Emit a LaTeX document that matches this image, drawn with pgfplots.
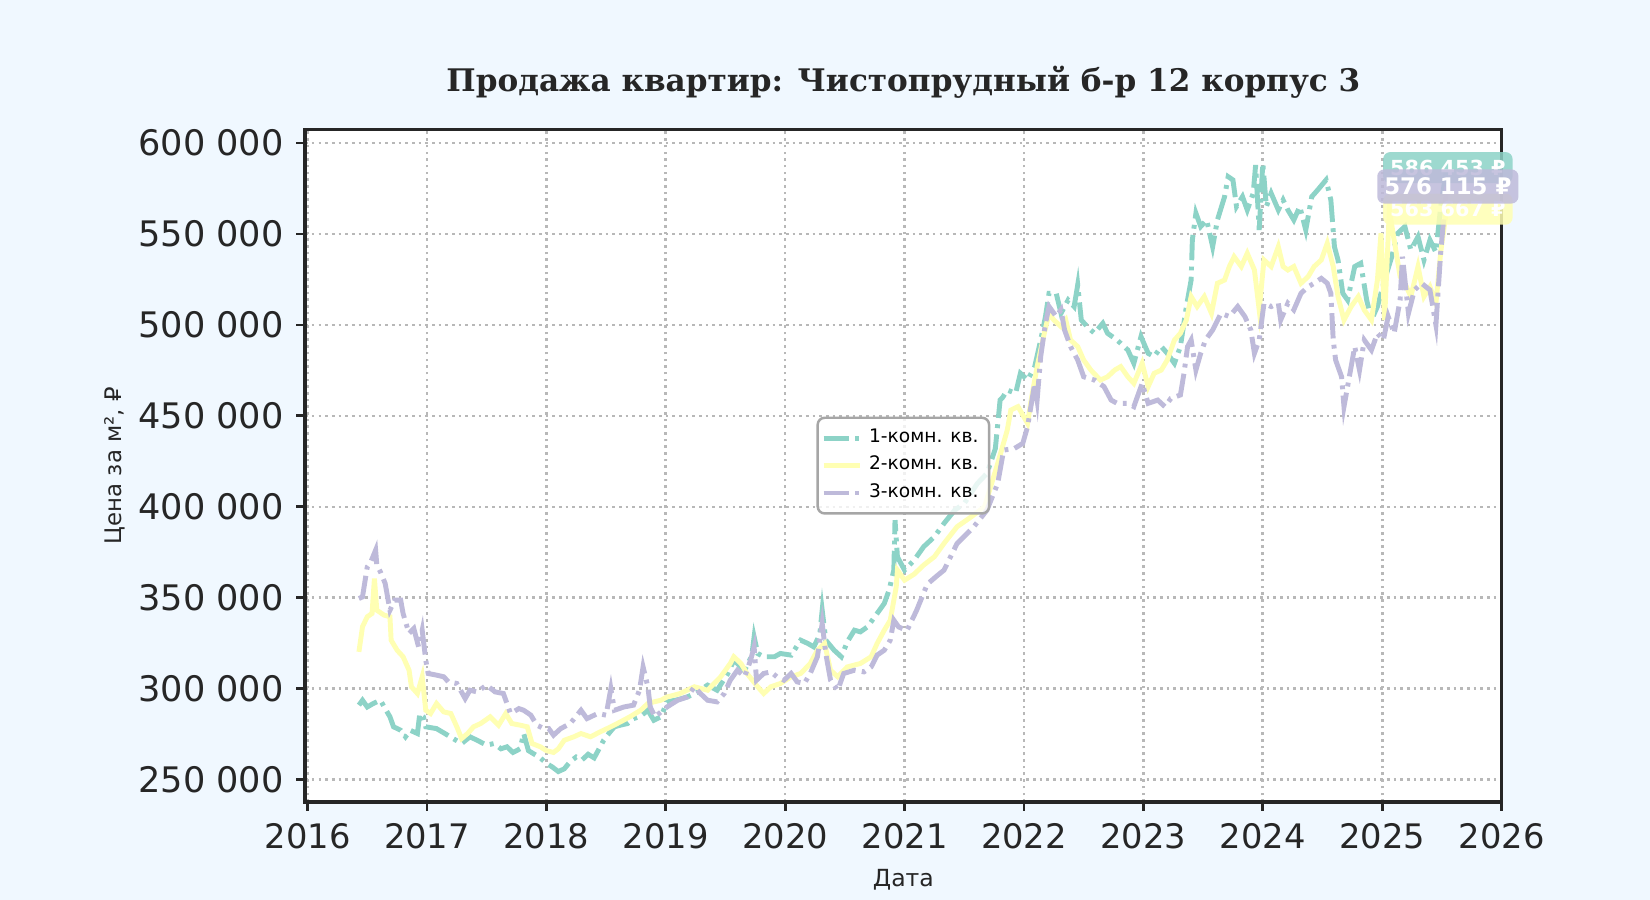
\documentclass[border=0pt]{standalone}
\usepackage{fontspec}
\setmainfont{DejaVu Sans}
\newfontfamily\titlefont{DejaVu Serif}
\usepackage{pgfplots}
\pgfplotsset{compat=1.18}

\definecolor{c1}{HTML}{8DD3C7}
\definecolor{c2}{HTML}{FFFFB3}
\definecolor{c3}{HTML}{BEBADA}
\definecolor{bg}{HTML}{F0F8FF}
\definecolor{frame}{HTML}{262626}

\begin{document}
\begin{tikzpicture}
\fill[bg] (-3.052cm,-0.979cm) rectangle (13.449cm,8.019cm);
\path[use as bounding box] (-3.052cm,-0.979cm) rectangle (13.449cm,8.019cm);
\begin{axis}[
    at={(0,0)}, anchor=south west,
    width=11.965cm, height=6.725cm, scale only axis,
    xmin=2015.98, xmax=2026.0,
    ymin=237850, ymax=607500,
    scaled y ticks=false, scaled x ticks=false,
    clip mode=individual,
    axis background/.style={fill=white},
    axis line style={line width=1pt, color=frame},
    xtick={2016,2017,2018,2019,2020,2021,2022,2023,2024,2025,2026},
    xticklabels={2016,2017,2018,2019,2020,2021,2022,2023,2024,2025,2026},
    ytick={250000,300000,350000,400000,450000,500000,550000,600000},
    yticklabels={{250 000},{300 000},{350 000},{400 000},{450 000},{500 000},{550 000},{600 000}},
    xtick pos=left, ytick pos=left,
    tick align=outside, major tick length=2.6pt,
    tick style={line width=0.8pt, color=frame},
    xticklabel style={font=\fontsize{9.6}{11}\selectfont, text=frame},
    yticklabel style={font=\fontsize{10}{12}\selectfont, text=frame},
    grid=major,
    major grid style={line width=0.75pt, color=black!28, dash pattern=on 0.75pt off 1.15pt},
    legend style={at={(0.5,0.5)}, anchor=center, draw=black!35, line width=0.7pt,
        rounded corners=2pt, fill=white, fill opacity=0.8, draw opacity=1, text opacity=1,
        font=\fontsize{5.3}{6.3}\selectfont, row sep=-1.6pt, inner ysep=1.1pt, inner xsep=1pt,
        cells={anchor=west}},
    legend image code/.code={\draw[#1] (0cm,0cm) -- (0.36cm,0cm);},
]
\addplot[color=c1, line width=1.4pt, dash pattern=on 7.2pt off 1.8pt on 1.1pt off 1.8pt] coordinates {
(2016.43,291000) (2016.46,293700) (2016.50,290000) (2016.55,291900) (2016.61,293700)
(2016.65,289100) (2016.69,284600) (2016.72,279100) (2016.78,277200) (2016.82,273600)
(2016.86,277200) (2016.92,275400) (2016.94,286400) (2016.97,284600) (2016.99,279100)
(2017.08,278100) (2017.15,275400) (2017.22,272600) (2017.29,269900) (2017.36,273600)
(2017.42,271700) (2017.50,269000) (2017.56,269900) (2017.62,267000) (2017.67,268100)
(2017.72,265000) (2017.78,267000) (2017.81,275400) (2017.85,266000) (2017.90,264000)
(2017.95,262000) (2018.00,259000) (2018.05,257000) (2018.10,254500) (2018.15,256000)
(2018.20,260000) (2018.25,262500) (2018.30,261000) (2018.35,264000) (2018.40,262000)
(2018.45,268000) (2018.48,271700) (2018.53,276000) (2018.57,279100) (2018.62,280000)
(2018.68,280900) (2018.73,283600) (2018.79,285000) (2018.85,288200) (2018.90,282700)
(2018.96,284600) (2019.01,292800) (2019.10,294000) (2019.18,295500) (2019.26,298000)
(2019.35,302000) (2019.43,299200) (2019.52,308400) (2019.57,315700) (2019.66,310200)
(2019.72,318000) (2019.74,328500) (2019.77,319400) (2019.82,317600) (2019.91,317600)
(2019.96,319400) (2020.05,318500) (2020.13,326700) (2020.19,324900) (2020.24,323000)
(2020.29,330000) (2020.31,343200) (2020.34,326700) (2020.41,321200) (2020.47,317600)
(2020.52,325800) (2020.58,332200) (2020.63,331300) (2020.69,334100) (2020.77,341400)
(2020.83,346900) (2020.87,354200) (2020.91,365200) (2020.92,392700) (2020.94,372500)
(2021.00,365200) (2021.08,370700) (2021.16,378100) (2021.25,383600) (2021.33,390900)
(2021.42,398200) (2021.50,401900) (2021.61,412900) (2021.69,418400) (2021.76,432000)
(2021.80,458700) (2021.82,460000) (2021.86,464200) (2021.93,462400) (2021.97,473400)
(2022.03,469700) (2022.09,477100) (2022.14,491700) (2022.18,504600) (2022.21,517400)
(2022.27,517400) (2022.31,506400) (2022.37,513700) (2022.42,510100) (2022.45,522000)
(2022.48,502700) (2022.53,499100) (2022.59,495400) (2022.66,500900) (2022.70,495400)
(2022.78,491700) (2022.87,486200) (2022.92,478900) (2022.98,493600) (2023.04,484400)
(2023.09,482600) (2023.15,488100) (2023.20,484400) (2023.26,478900) (2023.31,488100)
(2023.36,510100) (2023.40,524700) (2023.41,546700) (2023.44,561400) (2023.48,554100)
(2023.53,557700) (2023.58,543000) (2023.62,557700) (2023.68,570500) (2023.71,581500)
(2023.75,579700) (2023.78,565100) (2023.83,570500) (2023.87,563200) (2023.92,572400)
(2023.94,587900) (2023.97,552200) (2024.00,588900) (2024.03,565100) (2024.07,572400)
(2024.13,563200) (2024.17,568700) (2024.21,563200) (2024.26,557700) (2024.31,565100)
(2024.36,552200) (2024.41,570500) (2024.46,574200) (2024.53,579700) (2024.57,568700)
(2024.60,543000) (2024.63,535700) (2024.67,517400) (2024.71,513700) (2024.77,532100)
(2024.82,533900) (2024.87,513700) (2024.91,502700) (2024.96,510100) (2025.02,524700)
(2025.08,537500) (2025.13,550400) (2025.19,554100) (2025.24,541200) (2025.30,548500)
(2025.35,535700) (2025.40,546700) (2025.45,540000) (2025.49,565000) (2025.54,586453)
};
\addlegendentry{1-комн. кв.}
\addplot[color=c2, line width=1.4pt] coordinates {
(2016.43,320300) (2016.46,334100) (2016.50,339600) (2016.54,341400) (2016.56,360600)
(2016.58,343200) (2016.64,340500) (2016.69,339600) (2016.70,326700) (2016.75,321200)
(2016.80,317600) (2016.85,310200) (2016.87,301100) (2016.92,297400) (2016.96,306600)
(2016.99,288200) (2017.03,286400) (2017.08,291900) (2017.14,287300) (2017.20,286400)
(2017.25,279100) (2017.29,272600) (2017.34,275400) (2017.39,279100) (2017.45,280900)
(2017.53,284600) (2017.60,280000) (2017.66,286400) (2017.71,280900) (2017.78,280000)
(2017.84,279100) (2017.88,269900) (2017.95,268100) (2018.00,266000) (2018.06,265000)
(2018.10,267000) (2018.15,271700) (2018.23,273600) (2018.29,275400) (2018.37,273600)
(2018.45,276300) (2018.54,279100) (2018.62,281800) (2018.70,284600) (2018.79,288200)
(2018.85,291900) (2018.90,292800) (2018.96,293700) (2019.01,295500) (2019.07,296500)
(2019.12,297400) (2019.24,301100) (2019.35,299200) (2019.46,306600) (2019.54,313900)
(2019.57,317600) (2019.63,313900) (2019.68,308400) (2019.77,301100) (2019.82,297400)
(2019.88,301100) (2019.96,302900) (2020.05,306600) (2020.13,308400) (2020.21,313900)
(2020.27,321200) (2020.33,324900) (2020.38,310200) (2020.44,306600) (2020.52,312000)
(2020.63,313900) (2020.72,317600) (2020.77,324900) (2020.83,332200) (2020.88,337700)
(2020.93,356000) (2020.94,365200) (2021.00,359700) (2021.08,363000) (2021.16,368000)
(2021.25,372600) (2021.33,379900) (2021.44,389100) (2021.56,394600) (2021.67,400100)
(2021.78,423900) (2021.86,442200) (2021.89,453200) (2021.95,455100) (2022.03,445900)
(2022.06,458700) (2022.11,477100) (2022.17,495400) (2022.21,506400) (2022.25,502700)
(2022.31,499100) (2022.35,502700) (2022.39,491700) (2022.45,488100) (2022.50,480700)
(2022.56,475200) (2022.64,469700) (2022.70,471500) (2022.76,475200) (2022.81,477100)
(2022.87,471500) (2022.92,467900) (2022.99,478900) (2023.04,466100) (2023.09,473400)
(2023.15,475200) (2023.20,480700) (2023.26,491700) (2023.31,495400) (2023.36,502700)
(2023.40,515600) (2023.45,510100) (2023.51,515600) (2023.57,506400) (2023.62,522900)
(2023.68,524700) (2023.72,532100) (2023.76,537500) (2023.82,532100) (2023.87,539400)
(2023.93,530200) (2023.97,508200) (2024.01,535700) (2024.07,532100) (2024.13,543000)
(2024.17,532100) (2024.21,530200) (2024.26,532100) (2024.32,522900) (2024.38,526600)
(2024.43,532100) (2024.49,535700) (2024.54,544900) (2024.59,532100) (2024.63,515600)
(2024.68,502700) (2024.74,510100) (2024.80,515600) (2024.85,508200) (2024.91,502700)
(2024.96,524700) (2024.99,550400) (2025.02,502700) (2025.06,563200) (2025.10,546700)
(2025.15,526600) (2025.19,522900) (2025.24,515600) (2025.30,532100) (2025.35,515600)
(2025.40,521000) (2025.45,512000) (2025.49,540000) (2025.54,563667)
};
\addlegendentry{2-комн. кв.}
\addplot[color=c3, line width=1.4pt, dash pattern=on 7.2pt off 1.8pt on 1.1pt off 1.8pt] coordinates {
(2016.43,349600) (2016.46,350500) (2016.50,367000) (2016.53,369800) (2016.57,376200)
(2016.58,368000) (2016.61,364300) (2016.65,357900) (2016.69,343200) (2016.73,348700)
(2016.78,348700) (2016.80,341400) (2016.85,330400) (2016.89,333100) (2016.93,323000)
(2016.96,332200) (2016.99,315700) (2017.01,308400) (2017.08,307500) (2017.14,306600)
(2017.18,303800) (2017.25,302900) (2017.32,294600) (2017.36,299200) (2017.42,298300)
(2017.50,302000) (2017.57,298300) (2017.64,297400) (2017.70,286400) (2017.77,289100)
(2017.81,288200) (2017.87,285500) (2017.92,280000) (2017.98,278100) (2018.02,278100)
(2018.06,274500) (2018.12,278100) (2018.20,280900) (2018.29,288200) (2018.34,283600)
(2018.43,286400) (2018.50,285500) (2018.54,300100) (2018.57,288200) (2018.65,290000)
(2018.73,291000) (2018.78,299200) (2018.81,312000) (2018.85,301100) (2018.87,290000)
(2018.91,284600) (2018.96,287300) (2019.01,290000) (2019.10,293700) (2019.18,295500)
(2019.24,301100) (2019.29,297400) (2019.35,293700) (2019.43,292800) (2019.49,297400)
(2019.54,304700) (2019.60,310200) (2019.66,306600) (2019.71,315700) (2019.74,323000)
(2019.76,304700) (2019.82,308400) (2019.88,309300) (2019.93,306600) (2019.99,304700)
(2020.05,308400) (2020.10,303800) (2020.16,302900) (2020.21,308400) (2020.27,317600)
(2020.31,335900) (2020.34,319400) (2020.38,304700) (2020.44,299200) (2020.49,308400)
(2020.58,310200) (2020.66,309300) (2020.72,312000) (2020.77,318500) (2020.83,321200)
(2020.88,326700) (2020.91,337700) (2020.95,334000) (2021.02,332000) (2021.10,343000)
(2021.19,357500) (2021.27,362000) (2021.33,365200) (2021.44,379900) (2021.58,389100)
(2021.69,398200) (2021.78,412900) (2021.83,431200) (2021.92,432100) (2021.99,434900)
(2022.03,444100) (2022.09,467900) (2022.11,458700) (2022.14,482600) (2022.18,500900)
(2022.21,510100) (2022.27,504600) (2022.31,508300) (2022.34,497200) (2022.39,488100)
(2022.45,480700) (2022.50,471500) (2022.59,469700) (2022.67,466100) (2022.73,458700)
(2022.78,456900) (2022.87,456900) (2022.92,455100) (2022.99,467900) (2023.04,456900)
(2023.12,458700) (2023.18,455100) (2023.23,459600) (2023.31,461500) (2023.34,473400)
(2023.37,488100) (2023.40,491700) (2023.44,475200) (2023.48,484400) (2023.52,491700)
(2023.58,497200) (2023.65,506400) (2023.72,504600) (2023.79,510100) (2023.85,504600)
(2023.90,497200) (2023.93,484400) (2023.97,491700) (2024.01,511900) (2024.07,510100)
(2024.13,511900) (2024.15,502700) (2024.21,511900) (2024.26,508300) (2024.32,517400)
(2024.38,521000) (2024.43,522900) (2024.49,525600) (2024.54,522900) (2024.57,517400)
(2024.59,491700) (2024.61,480700) (2024.66,471500) (2024.68,455100) (2024.73,473400)
(2024.77,488100) (2024.81,475200) (2024.85,491700) (2024.91,486200) (2024.96,495400)
(2025.01,491700) (2025.05,504600) (2025.10,495400) (2025.15,513700) (2025.17,537500)
(2025.22,506400) (2025.27,519200) (2025.33,522900) (2025.40,519200) (2025.45,500000)
(2025.49,540000) (2025.54,576115)
};
\addlegendentry{3-комн. кв.}

% last-value labels
\node[fill=c1, fill opacity=0.85, text opacity=1, text=white, rounded corners=2pt,
      inner xsep=2pt, inner ysep=2.2pt, font=\bfseries\fontsize{5.9}{6}\selectfont]
      at (axis cs:2025.55,586453) {586 453 ₽};
\node[fill=c2, fill opacity=0.85, text opacity=1, text=white, rounded corners=2pt,
      inner xsep=2pt, inner ysep=2.2pt, font=\bfseries\fontsize{5.9}{6}\selectfont]
      at (axis cs:2025.55,563667) {563 667 ₽};
\node[fill=c3, fill opacity=0.85, text opacity=1, text=white, rounded corners=2pt,
      inner xsep=2pt, inner ysep=2.4pt, font=\bfseries\fontsize{6.5}{7}\selectfont]
      at (axis cs:2025.55,576115) {576 115 ₽};

\node[font=\titlefont\bfseries\fontsize{8.85}{11}\selectfont, text=frame]
      at ([yshift=13.4pt]rel axis cs:0.5,1) {Продажа квартир: Чистопрудный б-р 12 корпус 3};
\node[font=\fontsize{6.5}{8}\selectfont, text=frame, rotate=90]
      at ([xshift=-54.3pt]rel axis cs:0,0.5) {Цена за м², ₽};
\node[font=\fontsize{6.7}{8}\selectfont, text=frame]
      at ([yshift=-22.1pt]rel axis cs:0.5,0) {Дата};
\end{axis}
\end{tikzpicture}
\end{document}
